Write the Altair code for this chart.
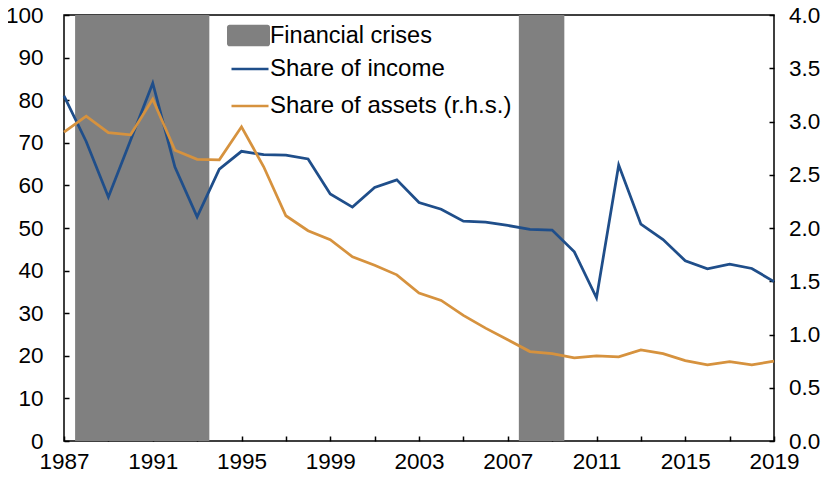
import altair as alt
import pandas as pd

years = list(range(1987, 2020))
income = [81.0, 70.3, 57.3, 70.6, 84.0, 64.3, 52.6, 63.8, 68.0, 67.2, 67.1, 66.2,
          58.0, 54.9, 59.5, 61.3, 56.0, 54.4, 51.6, 51.4, 50.6, 49.7, 49.5, 44.4,
          33.6, 64.8, 50.9, 47.3, 42.3, 40.4, 41.5, 40.5, 37.4]
assets = [2.90, 3.05, 2.895, 2.875, 3.21, 2.73, 2.645, 2.64, 2.95, 2.575, 2.115, 1.975,
          1.89, 1.73, 1.65, 1.56, 1.39, 1.32, 1.18, 1.06, 0.95, 0.84, 0.82, 0.78,
          0.80, 0.79, 0.855, 0.82, 0.755, 0.715, 0.745, 0.715, 0.75]
crisis_start = [1987.5, 2007.5]
crisis_end = [1993.55, 2009.55]
crisis_label = ["Financial crises", "Financial crises"]
series_names = ["Share of income", "Share of assets (r.h.s.)"]
series_colors = ["#1F4E8A", "#D6923E"]
x_ticks = list(range(1987, 2020, 2))
left_ticks = list(range(0, 101, 10))
right_ticks = [0.0, 0.5, 1.0, 1.5, 2.0, 2.5, 3.0, 3.5, 4.0]

FONT = "Liberation Sans"

df = pd.DataFrame({"year": years, "income": income, "assets": assets})
crises = pd.DataFrame({"start": crisis_start, "end": crisis_end, "label": crisis_label})

xscale = alt.Scale(domain=[1987, 2019], nice=False, zero=False)
xaxis = alt.Axis(values=x_ticks, format="d",
                 labelExpr="(datum.value - 1987) % 4 == 0 ? datum.label : ''",
                 domain=False, grid=False, ticks=True, tickSize=5, offset=-5,
                 labelPadding=9, title=None, labelFlush=False, labelOverlap=False)

rect_path = ("M-0.88,-0.5H0.88A0.12,0.12 0 0 1 1,-0.38V0.38A0.12,0.12 0 0 1 0.88,0.5"
             "H-0.88A0.12,0.12 0 0 1 -1,0.38V-0.38A0.12,0.12 0 0 1 -0.88,-0.5Z")

crisis_layer = alt.Chart(crises).mark_rect(opacity=1).encode(
    x=alt.X("start:Q", scale=xscale, axis=xaxis),
    x2="end:Q",
    fill=alt.Fill("label:N",
                  scale=alt.Scale(domain=["Financial crises"], range=["#808080"]),
                  legend=alt.Legend(title=None, orient="none", legendX=163, legendY=-1,
                                    symbolType=rect_path, symbolSize=1849,
                                    symbolStrokeWidth=0, symbolOpacity=1, padding=0,
                                    labelOffset=0, labelLimit=400, labelFontSize=23.5)),
)

stroke_scale = alt.Scale(domain=series_names, range=series_colors)
stroke_legend = alt.Legend(title=None, orient="none", legendX=166, legendY=34,
                           symbolType="stroke", symbolSize=1369, symbolStrokeWidth=2.5,
                           padding=0, labelOffset=0, labelLimit=400, rowPadding=5)

income_layer = alt.Chart(df).transform_calculate(series="'Share of income'").mark_line(
    strokeWidth=2.75).encode(
    x=alt.X("year:Q", scale=xscale, axis=xaxis),
    y=alt.Y("income:Q", scale=alt.Scale(domain=[0, 100], nice=False),
            axis=alt.Axis(values=left_ticks, orient="left", domain=False, grid=False,
                          tickSize=5, offset=-5, labelPadding=21, title=None)),
    stroke=alt.Stroke("series:N", scale=stroke_scale, legend=stroke_legend),
)

assets_layer = alt.Chart(df).transform_calculate(
    series="'Share of assets (r.h.s.)'").mark_line(strokeWidth=2.75).encode(
    x=alt.X("year:Q", scale=xscale, axis=xaxis),
    y=alt.Y("assets:Q", scale=alt.Scale(domain=[0, 4], nice=False),
            axis=alt.Axis(values=right_ticks, orient="right", format=".1f", domain=False,
                          grid=False, tickSize=5, offset=-5, labelPadding=14.5,
                          title=None)),
    stroke=alt.Stroke("series:N", scale=stroke_scale, legend=stroke_legend),
)

chart = alt.layer(crisis_layer, income_layer, assets_layer).resolve_scale(
    y="independent"
).properties(
    width=710, height=426,
    autosize=alt.AutoSizeParams(type="none"),
    padding={"left": 56, "top": 7, "right": 47, "bottom": 32},
).configure_view(
    stroke="black", strokeWidth=1.5
).configure_axis(
    labelFont=FONT, labelFontSize=22.5, labelColor="black",
    tickColor="black", tickWidth=1.5,
).configure_legend(
    labelFont=FONT, labelFontSize=24, labelColor="black",
)

chart.save("out.html", embed_options={"renderer": "svg", "actions": False})
